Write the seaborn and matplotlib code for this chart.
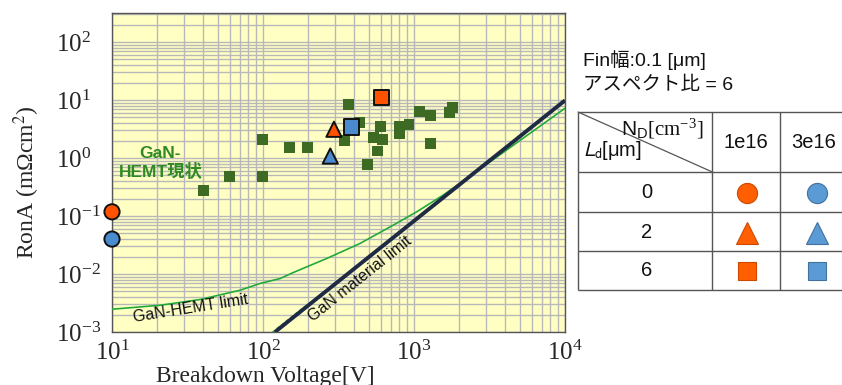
import matplotlib
matplotlib.use("Agg")
import matplotlib.pyplot as plt
import seaborn as sns
import pandas as pd
from matplotlib.ticker import LogLocator, NullFormatter, LogFormatterSciNotation

# ---------------- data ----------------
hemt_vb = [40.1, 60.4, 99.5, 99.5, 149, 198, 347, 367, 435, 493, 571, 543, 621, 596,
           796, 796, 927, 1084, 1282, 1282, 1715, 1786]
hemt_ron = [0.277, 0.475, 0.475, 2.1, 1.51, 1.51, 1.99, 8.3, 4.1, 0.78, 1.32, 2.28, 2.1, 3.47,
            3.47, 2.67, 3.72, 6.3, 5.4, 1.79, 6.15, 7.4]

# simulated devices: Ld (0 circle, 2 triangle, 6 square), ND 1e16 orange / 3e16 blue
sim_ld = ["0", "0", "2", "2", "6", "6"]
sim_nd = ["1e16", "3e16", "1e16", "3e16", "1e16", "3e16"]
sim_vb = [10, 10, 295, 279, 607, 384]
sim_ron = [0.118, 0.040, 3.13, 1.08, 10.9, 3.43]

hemt_limit_vb = [10, 20.8, 38.3, 70.5, 95.5, 130, 158.6, 264, 439, 729, 1042, 1563, 2018, 10000]
hemt_limit_ron = [2.47e-3, 2.89e-3, 3.63e-3, 5.25e-3, 6.86e-3, 8.36e-3, 0.0106, 0.0185,
                  0.0336, 0.0696, 0.118, 0.23, 0.366, 7.2]

mat_limit_vb = [120, 10000]
mat_limit_ron = [1.0e-3, 9.85]

dash_vb = [115, 190]
dash_ron = [0.975e-3, 2.77e-3]

xticks = [1e1, 1e2, 1e3, 1e4]
yticks = [1e-3, 1e-2, 1e-1, 1e0, 1e1, 1e2]

table_cols = ["1e16", "3e16"]
table_rows = ["0", "2", "6"]

# ---------------- style ----------------
sns.set_theme(style="white")
plt.rcParams["font.family"] = ["Liberation Sans", "Noto Sans CJK JP", "DejaVu Sans"]
plt.rcParams["mathtext.fontset"] = "stix"
plt.rcParams["mathtext.rm"] = "Liberation Serif"
plt.rcParams["mathtext.sf"] = "Liberation Sans"
plt.rcParams["mathtext.it"] = "Liberation Sans:italic"

W, H = 842, 385
fig = plt.figure(figsize=(W / 100, H / 100), dpi=100)
L, R, T, B = 112, 565, 13, 332
ax = fig.add_axes([L / W, 1 - B / H, (R - L) / W, (B - T) / H])
ax.set_xscale("log")
ax.set_yscale("log")
ax.set_xlim(10, 1e4)
ax.set_ylim(1e-3, 10 ** 2.5)
ax.set_facecolor("#ffffc4")

ax.xaxis.set_minor_locator(LogLocator(base=10, subs=range(2, 10), numticks=20))
ax.yaxis.set_minor_locator(LogLocator(base=10, subs=range(2, 10), numticks=20))
ax.xaxis.set_minor_formatter(NullFormatter())
ax.yaxis.set_minor_formatter(NullFormatter())
ax.set_xticks(xticks)
ax.set_yticks(yticks)
ax.xaxis.set_major_formatter(LogFormatterSciNotation())
ax.yaxis.set_major_formatter(LogFormatterSciNotation())
ax.grid(True, which="both", color="#b8b8b8", linewidth=1.0)
ax.set_axisbelow(True)
ax.tick_params(axis="both", which="major", length=3, width=0.8, color="#444444",
               labelsize=18)
ax.tick_params(axis="x", which="major", pad=3.5)
ax.tick_params(axis="y", which="major", pad=37)
ax.tick_params(axis="both", which="minor", length=0)
for lab in ax.get_xticklabels() + ax.get_yticklabels():
    lab.set_fontfamily("Liberation Serif")
for lab in ax.get_yticklabels():
    lab.set_horizontalalignment("left")
for sp in ax.spines.values():
    sp.set_color("#555555")
    sp.set_linewidth(1.0)

# lines
sns.lineplot(x=dash_vb, y=dash_ron, ax=ax, color="#22aa3a", lw=1.2, ls=(0, (2, 1.5)),
             sort=False, estimator=None, zorder=2)
sns.lineplot(x=hemt_limit_vb, y=hemt_limit_ron, ax=ax, color="#22aa3a", lw=1.2,
             sort=False, estimator=None, zorder=3)
sns.lineplot(x=mat_limit_vb, y=mat_limit_ron, ax=ax, color="#1f2a44", lw=2.8,
             sort=False, estimator=None, zorder=4, solid_capstyle="butt")

# existing GaN-HEMT data
sns.scatterplot(x=hemt_vb, y=hemt_ron, ax=ax, marker="s", s=62, color="#3e6b23",
                edgecolor="none", linewidth=0, zorder=5)

# simulated points
sim = pd.DataFrame({"vb": sim_vb, "ron": sim_ron, "Ld": sim_ld, "ND": sim_nd})
sns.scatterplot(data=sim, x="vb", y="ron", hue="ND", style="Ld", ax=ax,
                palette={"1e16": "#ff5200", "3e16": "#4a8bd0"},
                markers={"0": "o", "2": "^", "6": "s"},
                s=120, edgecolor="#111111", linewidth=1.4,
                legend=False, zorder=6, clip_on=False)

# annotations
ax.text(33.4, 2.5e-3, "GaN-HEMT limit", fontsize=11.5, color="#111111", rotation=9,
        ha="center", va="center", rotation_mode="anchor", zorder=7)
ax.text(440, 8.2e-3, "GaN material limit", fontsize=11.5, color="#111111", rotation=38.5,
        ha="center", va="center", rotation_mode="anchor", zorder=7)
ax.text(0.107, 0.53, "GaN-\nHEMT現状", transform=ax.transAxes, fontsize=12.5,
        fontweight="bold", color="#2f8a22", ha="center", va="center",
        multialignment="center", linespacing=1.1, zorder=7)

ax.set_xlabel("Breakdown Voltage[V]", fontsize=17, fontfamily="Liberation Serif")
ax.set_ylabel("RonA (mΩcm$^{2}$)", fontsize=17, fontfamily="Liberation Serif")
ax.xaxis.set_label_coords(0.338, -0.106)
ax.yaxis.set_label_coords(-0.155, 0.47)

# ---------------- right-hand table ----------------
ox = fig.add_axes([0, 0, 1, 1])
ox.set_xlim(0, W)
ox.set_ylim(H, 0)
ox.axis("off")

ox.text(583, 60, "Fin幅:0.1 [μm]", fontsize=14, ha="left", va="center", color="#111111")
ox.text(583, 85, "アスペクト比 = 6", fontsize=14, ha="left", va="center", color="#111111")

lc = "#555555"
tl, tr = 578, 845
rows = [112, 171.7, 211.7, 250.7, 289.5]
cols = [578, 711.7, 780]
for yv in rows:
    ox.plot([tl, tr], [yv, yv], color=lc, lw=1.0, solid_capstyle="butt")
for xv in cols:
    ox.plot([xv, xv], [rows[0], rows[-1]], color=lc, lw=1.0, solid_capstyle="butt")
ox.plot([578, 711.7], [112, 171.7], color=lc, lw=0.9)

ox.text(703, 129, r"$\mathsf{N}_{\mathsf{D}}\mathrm{[cm^{-3}]}$", fontsize=15,
        ha="right", va="center", color="#111111", math_fontfamily="custom")
ox.text(583, 150, r"$\mathit{L}_{\mathrm{d}}$[μm]", fontsize=14.5, ha="left", va="center",
        color="#111111", math_fontfamily="stixsans")
col_x = [745.5, 814]
for lbl, xv in zip(table_cols, col_x):
    ox.text(xv, 143, lbl, fontsize=14.5, ha="center", va="center", color="#111111")
row_y = [193, 232.5, 271]
mk = {"0": ("o", 14.5), "2": ("^", 16.5), "6": ("s", 12.5)}
for lbl, yv in zip(table_rows, row_y):
    ox.text(647, yv, lbl, fontsize=14.5, ha="center", va="center", color="#111111")
    m, ms = mk[lbl]
    ox.plot([746.7], [yv], marker=m, ms=ms, color="#ff5f00", mec="#cc4a00", mew=0.8,
            ls="none")
    ox.plot([816.7], [yv], marker=m, ms=ms, color="#5b9bd5", mec="#41719c", mew=0.8,
            ls="none")

fig.savefig("out.png", dpi=100, facecolor="white")
